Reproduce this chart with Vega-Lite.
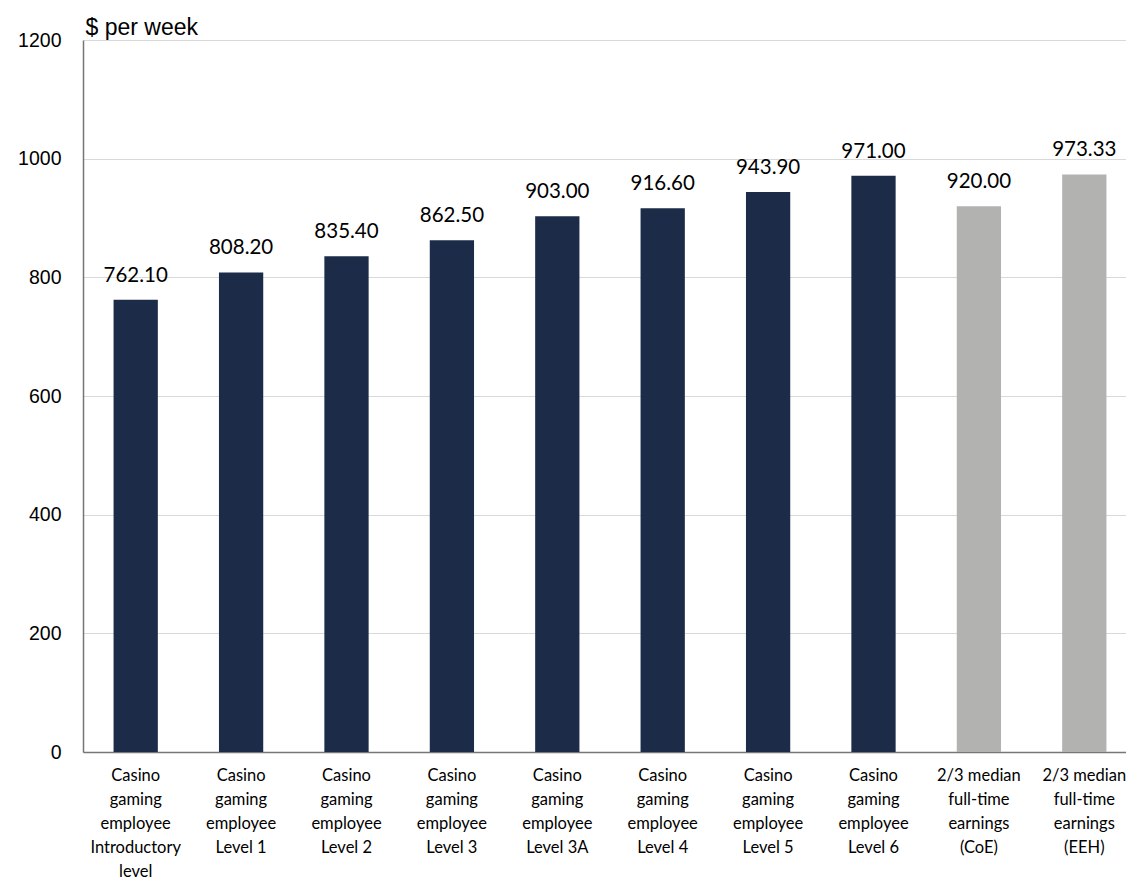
{
  "$schema": "https://vega.github.io/schema/vega-lite/v6.json",
  "width": 1054,
  "height": 712,
  "autosize": {"type": "none"},
  "padding": {"left": 83, "top": 40, "right": 0, "bottom": 130},
  "background": "white",
  "config": {"view": {"stroke": null}},
  "data": {"values": [
    {"cat": "Casino|gaming|employee|Introductory|level", "value": 762.10, "type": "award"},
    {"cat": "Casino|gaming|employee|Level 1", "value": 808.20, "type": "award"},
    {"cat": "Casino|gaming|employee|Level 2", "value": 835.40, "type": "award"},
    {"cat": "Casino|gaming|employee|Level 3", "value": 862.50, "type": "award"},
    {"cat": "Casino|gaming|employee|Level 3A", "value": 903.00, "type": "award"},
    {"cat": "Casino|gaming|employee|Level 4", "value": 916.60, "type": "award"},
    {"cat": "Casino|gaming|employee|Level 5", "value": 943.90, "type": "award"},
    {"cat": "Casino|gaming|employee|Level 6", "value": 971.00, "type": "award"},
    {"cat": "2/3 median|full-time|earnings|(CoE)", "value": 920.00, "type": "median"},
    {"cat": "2/3 median|full-time|earnings|(EEH)", "value": 973.33, "type": "median"}
  ]},
  "encoding": {
    "x": {
      "field": "cat", "type": "nominal", "sort": null,
      "scale": {"paddingInner": 0.58, "paddingOuter": 0.29},
      "axis": {
        "title": null, "labelAngle": 0, "ticks": false,
        "labelExpr": "split(datum.value, '|')",
        "labelFont": "Lato", "labelFontSize": 16.5, "labelColor": "#000000",
        "labelLineHeight": 24, "labelPadding": 15, "labelBaseline": "top",
        "domainColor": "#767676", "domainWidth": 1.5, "labelOverlap": false, "labelBound": false
      }
    },
    "y": {
      "field": "value", "type": "quantitative",
      "scale": {"domain": [0, 1200]},
      "axis": {
        "title": "$ per week", "titleAngle": 0, "titleAlign": "left", "titleBaseline": "alphabetic",
        "titleX": 2, "titleY": -6, "titleFont": "Liberation Sans", "titleFontSize": 23, "titleFontWeight": "normal", "titleColor": "#000000",
        "values": [0, 200, 400, 600, 800, 1000, 1200], "format": "d",
        "ticks": false, "labelPadding": 22,
        "labelFont": "Liberation Sans", "labelFontSize": 19.5, "labelColor": "#000000",
        "grid": true, "gridColor": "#d9d9d9", "gridWidth": 1.2,
        "domainColor": "#767676", "domainWidth": 1.5
      }
    }
  },
  "layer": [
    {
      "mark": {"type": "bar"},
      "encoding": {
        "color": {"field": "type", "type": "nominal", "legend": null,
          "scale": {"domain": ["award", "median"], "range": ["#1b2b48", "#b2b2b1"]}}
      }
    },
    {
      "mark": {"type": "text", "dy": -18, "baseline": "alphabetic", "font": "Lato", "fontSize": 20.5, "color": "#000000"},
      "encoding": {
        "text": {"field": "value", "type": "quantitative", "format": ".2f"}
      }
    }
  ]
}
